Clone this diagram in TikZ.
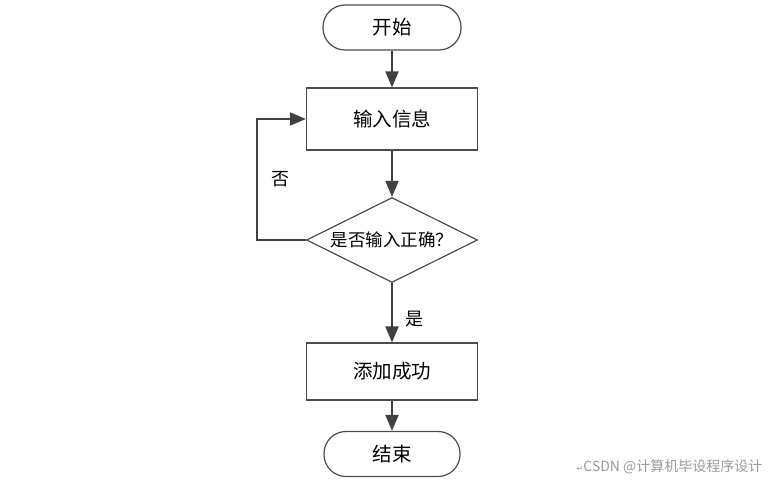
\documentclass[tikz,border=0pt]{standalone}
\usepackage{fontspec}
\setmainfont{Noto Sans CJK SC}
\newfontfamily\symfont{DejaVu Sans}
\usetikzlibrary{shapes,arrows.meta,positioning}
\tikzstyle{terminal} = [rectangle, draw=black!70, line width=1.2pt, rounded corners=22pt, minimum width=138pt, minimum height=45pt, font=\fontsize{19.5}{21}\selectfont]
\tikzstyle{block} = [rectangle, draw=black!70, line width=1.2pt, minimum width=171pt, minimum height=62pt, font=\fontsize{19.5}{21}\selectfont]
\tikzstyle{decision} = [diamond, aspect=2, draw=black!70, line width=1.2pt, minimum width=171pt, minimum height=85pt, inner sep=0pt, font=\fontsize{17.5}{19}\selectfont]
\tikzstyle{line} = [draw, black!75, line width=2pt, -{Triangle[length=16pt,width=13pt]}]
\tikzstyle{tag} = [font=\fontsize{18}{20}\selectfont, text=black]

\begin{document}
\begin{tikzpicture}[x=1pt, y=-1pt, auto]
    \useasboundingbox (0,0) rectangle (771,481);
    % Place nodes
    \node [terminal] (start) at (392,27.5) {开始};
    \node [block, below of=start, node distance=91.5pt] (input) {输入信息};
    \node [decision, below of=input, node distance=121pt] (check) {是否输入正确？};
    \node [block, below of=check, node distance=131.5pt, minimum height=57pt] (success) {添加成功};
    \node [terminal, below of=success, node distance=82.5pt, minimum width=136pt] (finish) {结束};
    \node [anchor=east, text=black!40, font=\fontsize{14}{16}\selectfont] (mark) at (766,467) {{\symfont\fontsize{8}{8}\selectfont ↵}CSDN @计算机毕设程序设计};
    % Draw edges
    \path [line] (start) -- (input);
    \path [line] (input) -- (check);
    \path [line] (check) -- node [tag, pos=0.6, right=9pt] {是} (success);
    \path [line] (check.west) -- ++(-49,0) |- node [tag, pos=0.25, right=10pt] {否} (input.west);
    \path [line] (success) -- (finish);

\end{tikzpicture}
\end{document}
